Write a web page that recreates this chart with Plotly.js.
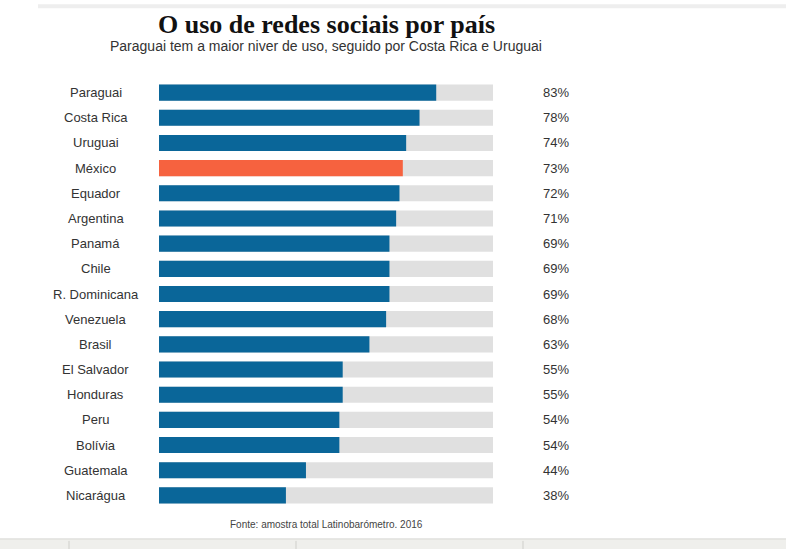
<!DOCTYPE html>
<html><head><meta charset="utf-8">
<script src="https://cdn.plot.ly/plotly-3.0.1.min.js"></script>
<style>html,body{margin:0;padding:0;background:#fff;}#c{width:786px;height:549px;}</style>
</head><body><div id="c"></div>
<script>
const countries = ["Paraguai","Costa Rica","Uruguai","México","Equador","Argentina","Panamá","Chile","R. Dominicana","Venezuela","Brasil","El Salvador","Honduras","Peru","Bolívia","Guatemala","Nicarágua"];
const values = [83,78,74,73,72,71,69,69,69,68,63,55,55,54,54,44,38];
const highlight = "México";
const maxValue = 100;

const blue = "#0a6699", orange = "#f6623f", grey = "#e0e0e0";
const colors = countries.map(c => c === highlight ? orange : blue);

const bg = {type:"bar", orientation:"h", y:countries, x:countries.map(()=>maxValue),
  marker:{color:grey}, hoverinfo:"skip", showlegend:false};
const fg = {type:"bar", orientation:"h", y:countries, x:values,
  marker:{color:colors}, showlegend:false};

const labFont = {family:"Liberation Sans, Arial", size:13, color:"#333"};
const ann = [];
countries.forEach((c,i)=>{
  ann.push({xref:"paper", yref:"y", x:-0.19, y:c, text:c, showarrow:false, xanchor:"center", font:labFont});
  ann.push({xref:"paper", yref:"y", x:1.189, y:c, text:values[i]+"%", showarrow:false, xanchor:"center", font:labFont});
});
ann.push({xref:"paper", yref:"paper", x:0.5, y:1, yshift:56, text:"<b>O uso de redes sociais por país</b>", showarrow:false, xanchor:"center", yanchor:"middle",
  font:{family:"Liberation Serif, Times New Roman, serif", size:26, color:"#111"}});
ann.push({xref:"paper", yref:"paper", x:0.5, y:1, yshift:34, text:"Paraguai tem a maior niver de uso, seguido por Costa Rica e Uruguai", showarrow:false, xanchor:"center", yanchor:"middle",
  font:{family:"Liberation Sans, Arial", size:14, color:"#333"}});
ann.push({xref:"paper", yref:"paper", x:0.5, y:0, yshift:-16, text:"Fonte: amostra total Latinobarómetro. 2016", showarrow:false, xanchor:"center", yanchor:"middle",
  font:{family:"Liberation Sans, Arial", size:10, color:"#444"}});

const H = 429;
const py = p => (549 - 41 - p) / H;   // pixel y -> paper y
const px = p => (p - 159) / 334;      // pixel x -> paper x
const shapes = [
  {type:"rect", xref:"paper", yref:"paper", x0:px(38), x1:px(790), y0:py(7), y1:py(3), fillcolor:"#eeeeee", line:{width:0}, layer:"below"},
  {type:"rect", xref:"paper", yref:"paper", x0:px(-5), x1:px(792), y0:py(552), y1:py(539), fillcolor:"#efefec", line:{color:"#d6d6d2", width:1}, layer:"below"}
];
[69, 296, 523].forEach(x => shapes.push({type:"line", xref:"paper", yref:"paper", x0:px(x), x1:px(x), y0:py(541), y1:py(552), line:{color:"#cfcfcb", width:1}}));

const layout = {
  width:786, height:549,
  margin:{l:159, r:293, t:80, b:41},
  barmode:"overlay", bargap:0.36,
  paper_bgcolor:"#fff", plot_bgcolor:"#fff",
  xaxis:{range:[0,maxValue], visible:false, fixedrange:true},
  yaxis:{autorange:"reversed", showticklabels:false, showgrid:false, zeroline:false, ticks:"", fixedrange:true},
  annotations:ann,
  shapes:shapes
};
Plotly.newPlot("c", [bg, fg], layout, {displayModeBar:false, staticPlot:true});
</script></body></html>
